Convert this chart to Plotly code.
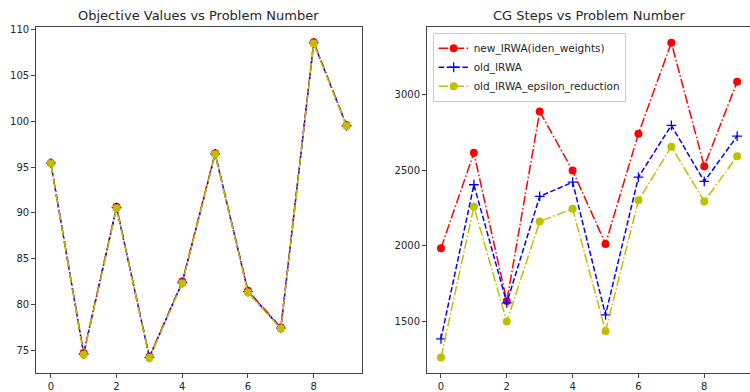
import plotly.graph_objects as go

problems = list(range(10))

obj_new = [95.45, 74.7, 90.66, 74.3, 82.5, 96.5, 81.5, 77.5, 108.63, 99.57]
obj_old = [95.42, 74.6, 90.58, 74.22, 82.4, 96.43, 81.4, 77.42, 108.55, 99.5]
obj_eps = [95.4, 74.53, 90.51, 74.17, 82.33, 96.4, 81.31, 77.35, 108.48, 99.47]

cg_new = [1984, 2615, 1635, 2888, 2498, 2013, 2742, 3343, 2526, 3085]
cg_old = [1386, 2404, 1624, 2327, 2421, 1544, 2454, 2797, 2426, 2726]
cg_eps = [1262, 2259, 1500, 2161, 2246, 1436, 2301, 2656, 2294, 2593]

names = ["new_IRWA(iden_weights)", "old_IRWA", "old_IRWA_epsilon_reduction"]
titles = ["Objective Values vs Problem Number", "CG Steps vs Problem Number"]

RED = "#ff0000"
BLUE = "#0000ff"
YEL = "#bfbf00"
DASHDOT = "9.6px,2.4px,1.5px,2.4px"
DASHED = "5.5px,2.4px"

fig = go.Figure()

def add_series(xa, ya, data, show):
    new, old, eps = data
    fig.add_trace(go.Scatter(x=problems, y=new, mode="lines+markers", name=names[0],
                             line=dict(color=RED, width=1.5, dash=DASHDOT),
                             marker=dict(color=RED, size=8, symbol="circle"),
                             xaxis=xa, yaxis=ya, showlegend=show))
    fig.add_trace(go.Scatter(x=problems, y=old, mode="lines+markers", name=names[1],
                             line=dict(color=BLUE, width=1.5, dash=DASHED),
                             marker=dict(color=BLUE, size=7, symbol="cross-thin",
                                         line=dict(color=BLUE, width=1.3)),
                             xaxis=xa, yaxis=ya, showlegend=show))
    fig.add_trace(go.Scatter(x=problems, y=eps, mode="lines+markers", name=names[2],
                             line=dict(color=YEL, width=1.5, dash=DASHDOT),
                             marker=dict(color=YEL, size=8, symbol="circle"),
                             xaxis=xa, yaxis=ya, showlegend=show))

add_series("x", "y", (obj_new, obj_old, obj_eps), False)
add_series("x2", "y2", (cg_new, cg_old, cg_eps), True)

AX = "#444444"
TXT = "#262626"
tickfont = dict(family="DejaVu Sans", size=10, color=TXT)
common = dict(showgrid=False, zeroline=False, showline=True, linecolor=AX, linewidth=1,
              ticks="outside", ticklen=3.5, tickwidth=1, tickcolor=AX, tickfont=tickfont)

ydom = [1 - 373 / 392, 1 - 24.3 / 392]
fig.update_layout(
    width=750, height=392,
    margin=dict(l=0, r=0, t=0, b=0),
    paper_bgcolor="white", plot_bgcolor="white",
    xaxis=dict(domain=[35.7 / 750, 361.7 / 750], range=[-0.46, 9.46], tickvals=[0, 2, 4, 6, 8],
               mirror=True, anchor="y", **common),
    yaxis=dict(domain=ydom, range=[72.51, 110.27], tickvals=[75, 80, 85, 90, 95, 100, 105, 110],
               mirror=True, anchor="x", **common),
    xaxis2=dict(domain=[426.5 / 750, 1.0], range=[-0.44, 9.39], tickvals=[0, 2, 4, 6, 8],
                mirror=True, anchor="y2", **common),
    yaxis2=dict(domain=ydom, range=[1159, 3446], tickvals=[1500, 2000, 2500, 3000],
                mirror=False, anchor="x2", **common),
    legend=dict(x=432.7 / 750, y=1 - 30 / 392, xanchor="left", yanchor="top",
                bgcolor="rgba(255,255,255,0.8)", bordercolor="#cccccc", borderwidth=1,
                font=dict(family="DejaVu Sans", size=10.5, color=TXT),
                itemwidth=30, tracegroupgap=0),
    annotations=[
        dict(text=titles[0], x=(35.7 + 361.7) / 2 / 750, y=1 - 13 / 392, xref="paper", yref="paper",
             showarrow=False, xanchor="center", yanchor="middle",
             font=dict(family="DejaVu Sans", size=13, color=TXT)),
        dict(text=titles[1], x=(426.5 + 752) / 2 / 750, y=1 - 13 / 392, xref="paper", yref="paper",
             showarrow=False, xanchor="center", yanchor="middle",
             font=dict(family="DejaVu Sans", size=13, color=TXT)),
    ],
)

fig.write_html("out.html")
